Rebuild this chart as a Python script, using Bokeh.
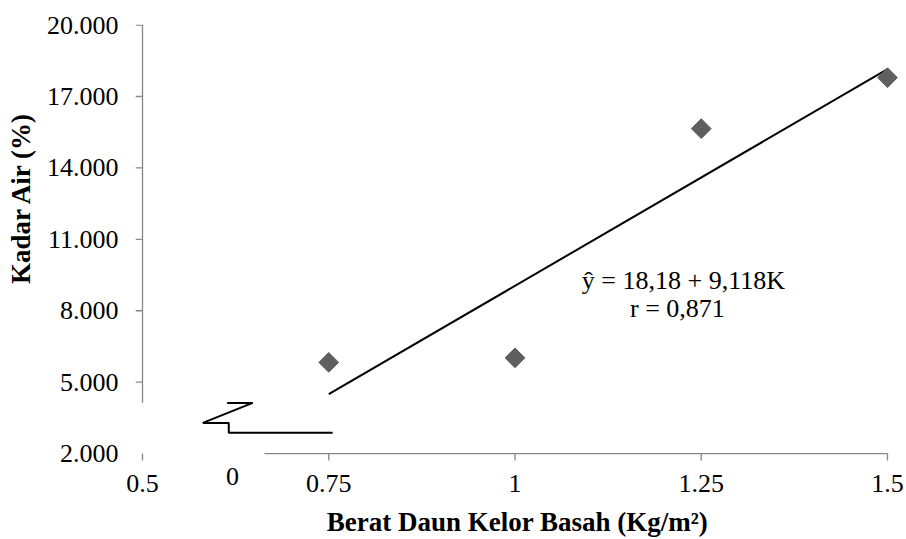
import numpy as np
from bokeh.plotting import figure
from bokeh.models import FixedTicker, Range1d, Title
from bokeh.embed import file_html
from bokeh.resources import INLINE
from bokeh.core.properties import value

# ---- data ----
berat = [0.75, 1.0, 1.25, 1.5]
kadar_air = [5.83, 6.02, 15.65, 17.79]

x_ticks = [0.5, 0.75, 1.0, 1.25, 1.5]
x_tick_labels = ["0.5", "0.75", "1", "1.25", "1.5"]
y_ticks = [2, 5, 8, 11, 14, 17, 20]
y_tick_labels = ["2.000", "5.000", "8.000", "11.000", "14.000", "17.000", "20.000"]
y_tick_marks = [5, 8, 11, 14, 17, 20]      # ticks that carry a tick mark
break_tick = 0.6208
break_label = "0"
break_label_y = 1.035

equation_text = "ŷ = 18,18 + 9,118K"
r_text = "r = 0,871"
x_title = "Berat Daun Kelor Basah (Kg/m²)"
y_title = "Kadar Air (%)"

# axis-break decoration (data coordinates)
break_x = [0.6136, 0.648, 0.581, 0.6158, 0.6158, 0.7552]
break_y = [4.128, 4.128, 3.288, 3.288, 2.869, 2.869]
y_axis_bottom = 4.13
x_axis_left = 0.6637

FONT = "Liberation Serif"
AXIS_GREY = "#868686"
TICK_PX = "26px"
TITLE_PX = "27px"
TICK_LEN = 7          # px
KX = 745.3            # px per x unit
KY = 23.833           # px per y unit
BOTTOM_PAD = 39       # px of frame below the x axis line

x0, x1 = x_ticks[0], x_ticks[-1]
y0, y1 = y_ticks[0], y_ticks[-1]
dx = TICK_LEN / KX
dy = TICK_LEN / KY

p = figure(width=906, height=539,
           x_range=Range1d(x0 - dx, x1 + 12 / KX),
           y_range=Range1d(y0 - BOTTOM_PAD / KY, y1 + 0.6 / KY),
           output_backend="svg", toolbar_location=None,
           min_border_left=135, min_border_right=7,
           min_border_top=24, min_border_bottom=539 - 24 - 430 - BOTTOM_PAD + 1)
p.grid.visible = False
p.outline_line_color = None
p.background_fill_color = "white"
p.border_fill_color = "white"

# axes carry only the labels
ya = p.yaxis[0]
ya.ticker = FixedTicker(ticks=y_ticks)
ya.major_label_overrides = {t: l for t, l in zip(y_ticks, y_tick_labels)}
xa = p.xaxis[0]
xa.ticker = FixedTicker(ticks=x_ticks)
xa.major_label_overrides = {t: l for t, l in zip(x_ticks, x_tick_labels)}
for ax in (ya, xa):
    ax.axis_line_color = None
    ax.major_tick_line_color = None
    ax.minor_tick_line_color = None
    ax.major_tick_out = 0
    ax.major_tick_in = 0
    ax.major_label_text_font = FONT
    ax.major_label_text_font_size = TICK_PX
    ax.major_label_text_color = "black"
ya.major_label_standoff = 17
xa.major_label_standoff = -(BOTTOM_PAD - 21)
xa.axis_label = x_title
xa.axis_label_text_font = FONT
xa.axis_label_text_font_size = TITLE_PX
xa.axis_label_text_font_style = "bold"
xa.axis_label_text_color = "black"
xa.axis_label_standoff = 12

# y title
p.add_layout(Title(text=y_title, align="right", offset=87, standoff=11, vertical_align="top",
                   text_font=FONT, text_font_size=TITLE_PX, text_font_style="bold",
                   text_color="black"), "left")

# axis lines (broken) and tick marks
p.segment(x0=[x_axis_left, x0], y0=[y0, y_axis_bottom], x1=[x1, x0], y1=[y0, y1],
          line_color=AXIS_GREY, line_width=1.3)
p.segment(x0=x_ticks, y0=[y0 - dy] * len(x_ticks), x1=x_ticks, y1=[y0] * len(x_ticks),
          line_color=AXIS_GREY, line_width=1.3)
p.segment(x0=[x0 - dx] * len(y_tick_marks), y0=y_tick_marks, x1=[x0] * len(y_tick_marks),
          y1=y_tick_marks, line_color=AXIS_GREY, line_width=1.3)

# axis break symbol and its "0" label
p.line(break_x, break_y, line_color="black", line_width=2)
p.text(x=[break_tick], y=[break_label_y], text=[break_label], text_align="center",
       text_baseline="middle", text_font=value(FONT), text_font_size=TICK_PX,
       text_color="black")

# trend line from regression
slope, intercept = np.polyfit(berat, kadar_air, 1)
tx = np.array([min(berat), max(berat)])
p.line(tx, slope * tx + intercept, line_color="black", line_width=2)

# data points
p.scatter(berat, kadar_air, marker="square", angle=np.pi / 4, size=14,
          fill_color="#5f5f5f", line_color="#5f5f5f")

# equation
p.text(x=[1.226], y=[9.26], text=[equation_text], text_align="center",
       text_baseline="middle", text_font=value(FONT), text_font_size=TICK_PX,
       text_color="black")
p.text(x=[1.218], y=[8.08], text=[r_text], text_align="center",
       text_baseline="middle", text_font=value(FONT), text_font_size=TICK_PX,
       text_color="black")

open("out.html", "w").write(file_html(p, INLINE))
